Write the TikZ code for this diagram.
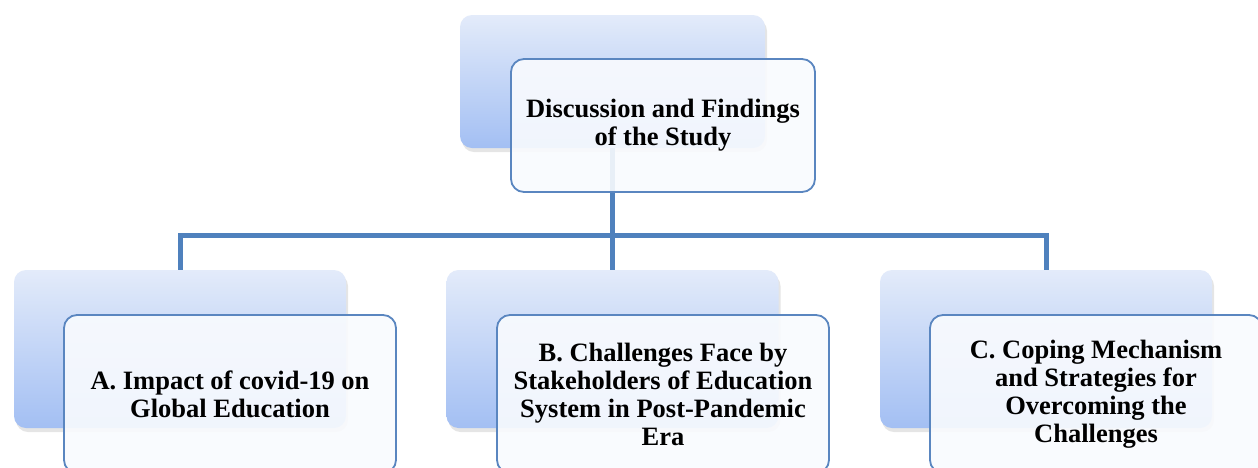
\documentclass[tikz,border=0pt]{standalone}
\usepackage{fontspec}
\setmainfont{Liberation Serif}
\usetikzlibrary{shadows}
\definecolor{conncol}{HTML}{4F81BD}
\definecolor{edgecol}{HTML}{5A86C0}
\definecolor{backtop}{HTML}{E3EBFA}
\definecolor{backbot}{HTML}{A3BFF3}
\definecolor{frontfill}{HTML}{F9FBFE}
\tikzset{
  backbox/.style={rectangle, rounded corners=12pt, top color=backtop, bottom color=backbot, draw=none,
    drop shadow={shadow xshift=2pt, shadow yshift=-4pt, opacity=0.2}, inner sep=0pt},
  frontbox/.style={rectangle, rounded corners=13pt, draw=edgecol, line width=1.8pt, fill=frontfill,
    fill opacity=0.9, text opacity=1, inner sep=0pt, align=center,
    font=\fontsize{26.5}{28}\selectfont\bfseries},
  conn/.style={draw=conncol, line width=5pt}
}
\begin{document}
\begin{tikzpicture}[x=1pt,y=-1pt]
\useasboundingbox (0,0) rectangle (1258,467);
\clip (0,0) rectangle (1258,467);
\fill[white] (0,0) rectangle (1258,467);
% back boxes
\node[backbox, minimum width=305pt, minimum height=133pt] (tb) at (612.5,81.5) {};
\node[backbox, minimum width=332pt, minimum height=158pt] (ba) at (180,349) {};
\node[backbox, minimum width=332pt, minimum height=158pt] (bb) at (612.5,349) {};
\node[backbox, minimum width=332pt, minimum height=158pt] (bc) at (1046,349) {};
% connectors
\coordinate (bus) at (612.5,235);
\draw[conn] (tb.south) -- (bb.north);
\draw[conn] (ba.north) -- (ba.north |- bus) -- (bc.north |- bus) -- (bc.north);
% front boxes
\node[frontbox, minimum width=304pt, minimum height=133pt] (ft) at (663,125.5)
  {Discussion and Findings\\of the Study};
\node[frontbox, minimum width=332pt, minimum height=158pt] (fa) at (230,394)
  {A. Impact of covid-19 on\\Global Education};
\node[frontbox, minimum width=332pt, minimum height=158pt] (fb) at (663,394)
  {B. Challenges Face by\\Stakeholders of Education\\System in Post-Pandemic\\Era};
\node[frontbox, minimum width=332pt, minimum height=158pt] (fc) at (1096,394)
  {C. Coping Mechanism\\and Strategies for\\Overcoming the\\Challenges};
\end{tikzpicture}
\end{document}
